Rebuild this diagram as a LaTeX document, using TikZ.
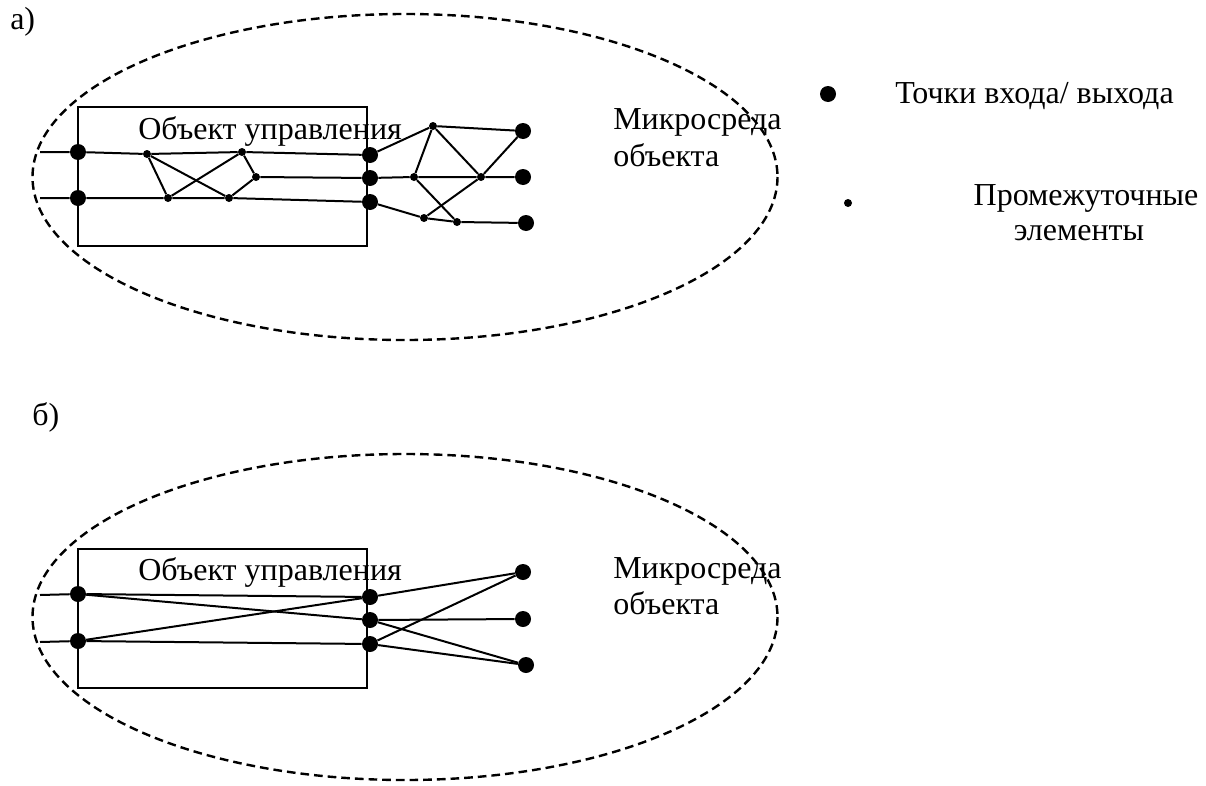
\documentclass[tikz,border=0pt]{standalone}
\usepackage{fontspec}
\setmainfont{Liberation Serif}
\begin{document}
\begin{tikzpicture}[x=0.75pt,y=-0.75pt,
  wire/.style={line width=1.5pt},
  border/.style={line width=1.8pt, dash pattern=on 6.5pt off 3.75pt},
  objbox/.style={line width=1.5pt},
  port/.style={circle,fill=black,inner sep=0pt,minimum size=12pt},
  joint/.style={circle,fill=black,inner sep=0pt,minimum size=6pt},
  lbl/.style={inner sep=0pt,font=\fontsize{24}{28}\selectfont}]
\useasboundingbox (0,0) rectangle (1206,785);

% ---------- a) ----------
\node[lbl,anchor=base west] (tA) at (10,29) {а)};
\draw[border] (405,177) ellipse [x radius=372.5, y radius=163];
\draw[objbox] (78,107) rectangle (367,246);
\node[lbl,anchor=base west] (objA) at (138,139) {Объект управления};
\node[lbl,anchor=base west] (envA1) at (613,129) {Микросреда};
\node[lbl,anchor=base west] (envA2) at (613,166) {объекта};

\coordinate (ainA) at (40,152);
\coordinate (ainB) at (40,198);
\node[port] (aL1) at (78,152) {};
\node[port] (aL2) at (78,198) {};
\node[joint] (ap1) at (147,154) {};
\node[joint] (ap2) at (242,152) {};
\node[joint] (ap3) at (256,177) {};
\node[joint] (ap4) at (168,198) {};
\node[joint] (ap5) at (229,198) {};
\node[port] (aR1) at (370,155) {};
\node[port] (aR2) at (370,178) {};
\node[port] (aR3) at (370,202) {};
\node[joint] (aq1) at (433,126) {};
\node[joint] (aq2) at (414,177) {};
\node[joint] (aq3) at (481,177) {};
\node[joint] (aq4) at (424,218) {};
\node[joint] (aq5) at (457,222) {};
\node[port] (aO1) at (523,131) {};
\node[port] (aO2) at (523,177) {};
\node[port] (aO3) at (526,223) {};

\draw[wire] (ainA) -- (aL1) -- (ap1) -- (ap2) -- (aR1);
\draw[wire] (ainB) -- (aL2) -- (ap4) -- (ap5) -- (aR3);
\draw[wire] (ap1) -- (ap4);
\draw[wire] (ap1) -- (ap5);
\draw[wire] (ap4) -- (ap2);
\draw[wire] (ap2) -- (ap3);
\draw[wire] (ap3) -- (ap5);
\draw[wire] (ap3) -- (aR2);
\draw[wire] (aR1) -- (aq1) -- (aO1);
\draw[wire] (aR2) -- (aq2) -- (aq3) -- (aO2);
\draw[wire] (aR3) -- (aq4) -- (aq5) -- (aO3);
\draw[wire] (aq1) -- (aq2);
\draw[wire] (aq1) -- (aq3);
\draw[wire] (aq3) -- (aO1);
\draw[wire] (aq2) -- (aq5);
\draw[wire] (aq3) -- (aq4);

% ---------- legend ----------
\node[port] (keyPort) at (828,94) {};
\node[lbl,anchor=base west] (keyPortText) at (895,103) {Точки входа/ выхода};
\node[joint] (keyJoint) at (848,203) {};
\node[lbl,anchor=base] (keyJointText1) at (1086,205) {Промежуточные};
\node[lbl,anchor=base] (keyJointText2) at (1079,240) {элементы};

% ---------- b) ----------
\node[lbl,anchor=base west] (tB) at (32,425) {б)};
\draw[border] (405,617) ellipse [x radius=372.5, y radius=163];
\draw[objbox] (78,549) rectangle (367,688);
\node[lbl,anchor=base west] (objB) at (138,580) {Объект управления};
\node[lbl,anchor=base west] (envB1) at (613,578) {Микросреда};
\node[lbl,anchor=base west] (envB2) at (613,614) {объекта};

\coordinate (binA) at (40,595);
\coordinate (binB) at (40,642);
\node[port] (bL1) at (78,594) {};
\node[port] (bL2) at (78,641) {};
\node[port] (bR1) at (370,597) {};
\node[port] (bR2) at (370,620) {};
\node[port] (bR3) at (370,644) {};
\node[port] (bO1) at (523,572) {};
\node[port] (bO2) at (523,619) {};
\node[port] (bO3) at (526,665) {};

\draw[wire] (binA) -- (bL1) -- (bR1);
\draw[wire] (binB) -- (bL2) -- (bR3);
\draw[wire] (bL1) -- (bR2);
\draw[wire] (bL2) -- (bR1);
\draw[wire] (bR1) -- (bO1);
\draw[wire] (bR2) -- (bO2);
\draw[wire] (bR2) -- (bO3);
\draw[wire] (bR3) -- (bO1);
\draw[wire] (bR3) -- (bO3);
\end{tikzpicture}
\end{document}
